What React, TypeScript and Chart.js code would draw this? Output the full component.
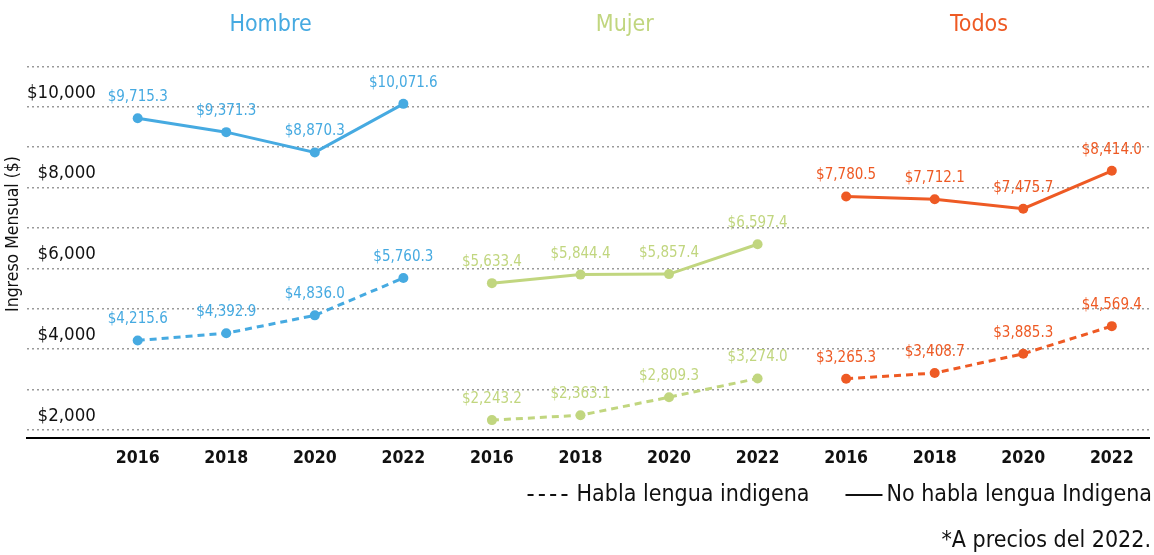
import React, { useEffect, useRef } from "react";
import { Chart, registerables } from "chart.js";

Chart.register(...registerables);

const FONT = "'DejaVu Sans Condensed', 'Liberation Sans Narrow', 'Noto Sans', sans-serif";

const years = ["2016", "2018", "2020", "2022"];
const groups = ["Hombre", "Mujer", "Todos"];
const groupColors = ["#46aae1", "#c1d67f", "#ee5a24"];

const hombreIndigena = [4215.6, 4392.9, 4836.0, 5760.3];
const hombreNoIndigena = [9715.3, 9371.3, 8870.3, 10071.6];
const mujerIndigena = [2243.2, 2363.1, 2809.3, 3274.0];
const mujerNoIndigena = [5633.4, 5844.4, 5857.4, 6597.4];
const todosIndigena = [3265.3, 3408.7, 3885.3, 4569.4];
const todosNoIndigena = [7780.5, 7712.1, 7475.7, 8414.0];

const yGridValues = [2000, 3000, 4000, 5000, 6000, 7000, 8000, 9000, 10000, 11000];
const yLabelValues = [2000, 4000, 6000, 8000, 10000];

const legendLabels = ["Habla lengua indigena", "No habla lengua Indigena"];
const footnote = "*A precios del 2022.";
const yTitle = "Ingreso Mensual ($)";

const xLabels = groups.flatMap(() => years);
const seriesByGroup = [
  [hombreIndigena, hombreNoIndigena],
  [mujerIndigena, mujerNoIndigena],
  [todosIndigena, todosNoIndigena],
];

const fmt = (v: number) =>
  "$" + v.toLocaleString("en-US", { minimumFractionDigits: 1, maximumFractionDigits: 1 });

const annotate = {
  id: "annotate",
  afterDatasetsDraw(chart: any) {
    const ctx = chart.ctx;
    ctx.save();
    ctx.textAlign = "center";
    ctx.textBaseline = "middle";
    chart.data.datasets.forEach((ds: any, di: number) => {
      const meta = chart.getDatasetMeta(di);
      ctx.fillStyle = ds.borderColor;
      ctx.font = `15px ${FONT}`;
      meta.data.forEach((pt: any, i: number) => {
        ctx.fillText(fmt(ds.data[i].y), pt.x, pt.y - 21);
      });
    });
    const xs = chart.scales.x;
    groups.forEach((g, gi) => {
      const cx = (xs.getPixelForValue(gi * 4) + xs.getPixelForValue(gi * 4 + 3)) / 2;
      ctx.fillStyle = groupColors[gi];
      ctx.font = `23px ${FONT}`;
      ctx.fillText(g, cx, 25);
    });

    // legend
    ctx.font = `23px ${FONT}`;
    ctx.fillStyle = "#111";
    ctx.strokeStyle = "#111";
    ctx.lineWidth = 2;
    ctx.textAlign = "left";
    const ly = 495;
    const right = 1152;
    const w2 = ctx.measureText(legendLabels[1]).width;
    const t2 = right - w2;
    ctx.fillText(legendLabels[1], t2, ly);
    ctx.setLineDash([]);
    ctx.beginPath();
    ctx.moveTo(t2 - 41, ly);
    ctx.lineTo(t2 - 4, ly);
    ctx.stroke();
    const w1 = ctx.measureText(legendLabels[0]).width;
    const e1 = t2 - 41 - 36;
    const t1 = e1 - w1;
    ctx.fillText(legendLabels[0], t1, ly);
    ctx.setLineDash([6, 5.3]);
    ctx.beginPath();
    ctx.moveTo(t1 - 49, ly);
    ctx.lineTo(t1 - 6, ly);
    ctx.stroke();
    ctx.setLineDash([]);

    ctx.textAlign = "right";
    ctx.fillText(footnote, 1151, 541);
    ctx.restore();
  },
};

export default function App() {
  const ref = useRef<HTMLCanvasElement | null>(null);
  useEffect(() => {
    if (!ref.current) return;
    const datasets: any[] = [];
    seriesByGroup.forEach((pair, gi) => {
      pair.forEach((vals, k) => {
        datasets.push({
          label: `${groups[gi]} - ${legendLabels[k]}`,
          data: vals.map((v, i) => ({ x: gi * 4 + i, y: v })),
          borderColor: groupColors[gi],
          backgroundColor: groupColors[gi],
          pointBackgroundColor: groupColors[gi],
          pointBorderWidth: 0,
          pointRadius: 5,
          borderWidth: 3,
          borderDash: k === 0 ? [7, 5] : [],
          tension: 0,
          fill: false,
        });
      });
    });
    const chart = new Chart(ref.current, {
      type: "line",
      data: { datasets },
      plugins: [annotate],
      options: {
        animation: false,
        responsive: true,
        maintainAspectRatio: false,
        layout: { padding: { top: 30, right: 4, bottom: 76, left: 0 } },
        plugins: { legend: { display: false }, tooltip: { enabled: false } },
        scales: {
          x: {
            type: "linear",
            min: -1.25,
            max: 11.42,
            afterBuildTicks: (s: any) => {
              s.ticks = xLabels.map((_, i) => ({ value: i }));
            },
            ticks: {
              autoSkip: false,
              maxRotation: 0,
              padding: 10,
              color: "#111",
              font: { size: 17.5, weight: "bold", family: FONT },
              callback: (v: any) => xLabels[v] ?? "",
            },
            grid: { display: false, drawTicks: false },
            border: { display: true, color: "#000", width: 2 },
          },
          y: {
            type: "linear",
            min: 1800,
            max: 11900,
            afterBuildTicks: (s: any) => {
              s.ticks = yGridValues.map((v) => ({ value: v }));
            },
            ticks: {
              mirror: true,
              crossAlign: "far",
              padding: 0,
              labelOffset: -14,
              color: "#111",
              font: { size: 18.5, family: FONT },
              callback: (v: any) => (yLabelValues.includes(v) ? "$" + v.toLocaleString("en-US") : ""),
            },
            grid: { color: "#9a9a9a", lineWidth: 1.5, drawTicks: false },
            border: { display: false, dash: [2, 3] },
            title: {
              display: true,
              text: yTitle,
              color: "#111",
              font: { size: 17.5, family: FONT },
              padding: { top: 3, bottom: 3 },
            },
          },
        },
      } as any,
    });
    return () => chart.destroy();
  }, []);
  return (
    <div style={{ position: "fixed", left: 0, top: 0, width: 1154, height: 555, background: "#fff" }}>
      <canvas ref={ref} />
    </div>
  );
}
